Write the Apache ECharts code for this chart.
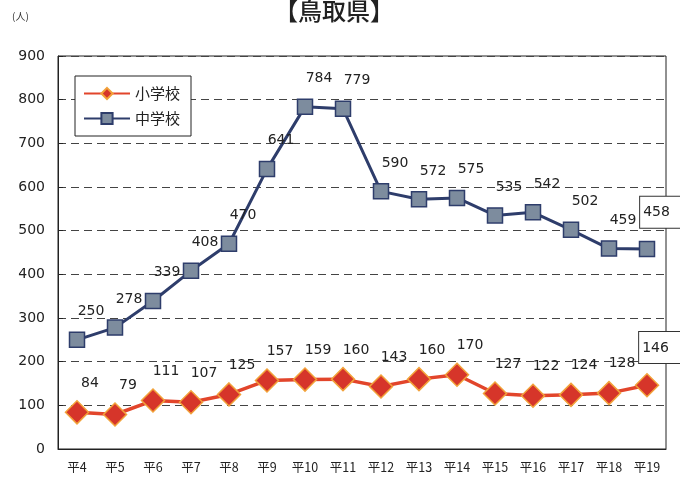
<!DOCTYPE html>
<html>
<head>
<meta charset="utf-8">
<script src="https://cdn.jsdelivr.net/npm/echarts@6/dist/echarts.min.js"></script>
<style>
html,body{margin:0;padding:0;background:#fff;}
#c{width:680px;height:478px;}
</style>
</head>
<body>
<div id="c"></div>
<script>
const categories = ['平4','平5','平6','平7','平8','平9','平10','平11','平12','平13','平14','平15','平16','平17','平18','平19'];
const elementary = [84,79,111,107,125,157,159,160,143,160,170,127,122,124,128,146];
const juniorHigh = [250,278,339,408,470,641,784,779,590,572,575,535,542,502,459,458];
const yTicks = [0,900,100];
const seriesNames = ['小学校','中学校'];
const titleText = '【鳥取県】';
const unitText = '(人)';

const numFont = 'DejaVu Sans';
const jpFont = 'Noto Sans CJK JP';

function withLastBoxed(arr) {
  return arr.map((v, i) => {
    if (i !== arr.length - 1) return v;
    return {
      value: v,
      label: {
        borderColor: '#333', borderWidth: 1, backgroundColor: '#fff',
        padding: [9, 12, 8, 3]
      }
    };
  });
}

const chart = echarts.init(document.getElementById('c'), null, {renderer: 'canvas'});
chart.setOption({
  animation: false,
  backgroundColor: '#fff',
  title: {
    text: titleText, left: 269, top: -6,
    textStyle: {fontFamily: jpFont, fontSize: 24, fontWeight: 500, color: '#222'}
  },
  graphic: [{
    type: 'text', left: 12, top: 11,
    style: {text: unitText, font: '10px "Noto Sans CJK JP"', fill: '#333'}
  }],
  legend: {
    orient: 'vertical', left: 75, top: 76,
    padding: [10, 11, 10, 8],
    itemWidth: 46, itemHeight: 14, itemGap: 10,
    borderColor: '#222', borderWidth: 1, backgroundColor: '#fff',
    textStyle: {fontFamily: jpFont, fontSize: 15, color: '#222'},
    data: seriesNames
  },
  grid: {
    left: 58, right: 14, top: 56, bottom: 29,
    show: true, borderColor: '#222', borderWidth: 1, backgroundColor: 'transparent'
  },
  xAxis: {
    type: 'category', data: categories, boundaryGap: true,
    axisLine: {lineStyle: {color: '#222', width: 1}},
    axisTick: {inside: true, length: 5, interval: 0, lineStyle: {color: '#222'}},
    axisLabel: {fontFamily: jpFont, fontSize: 12.5, color: '#222', margin: 12, interval: 0}
  },
  yAxis: {
    type: 'value', min: yTicks[0], max: yTicks[1], interval: yTicks[2],
    axisLine: {show: true, lineStyle: {color: '#222', width: 1}},
    axisTick: {show: true, inside: true, length: 5, lineStyle: {color: '#222'}},
    axisLabel: {fontFamily: numFont, fontSize: 14, color: '#222', margin: 13},
    splitLine: {show: true, lineStyle: {color: '#444', type: [8, 5], width: 1}}
  },
  series: [
    {
      name: seriesNames[0], type: 'line', data: withLastBoxed(elementary),
      symbol: 'diamond', symbolSize: 23,
      lineStyle: {color: '#e2452b', width: 3.5},
      itemStyle: {color: '#d6352a', borderColor: '#f2a23a', borderWidth: 1.5},
      label: {show: true, position: 'top', distance: 10, offset: [13, 0],
        fontFamily: numFont, fontSize: 14, color: '#222'},
      z: 3
    },
    {
      name: seriesNames[1], type: 'line', data: withLastBoxed(juniorHigh),
      symbol: 'rect', symbolSize: 15,
      lineStyle: {color: '#2e3d6b', width: 3},
      itemStyle: {color: '#7d8c9e', borderColor: '#2e3d6b', borderWidth: 1.5},
      label: {show: true, position: 'top', distance: 13, offset: [14, 0],
        fontFamily: numFont, fontSize: 14, color: '#222'},
      z: 3
    }
  ]
});
</script>
</body>
</html>
